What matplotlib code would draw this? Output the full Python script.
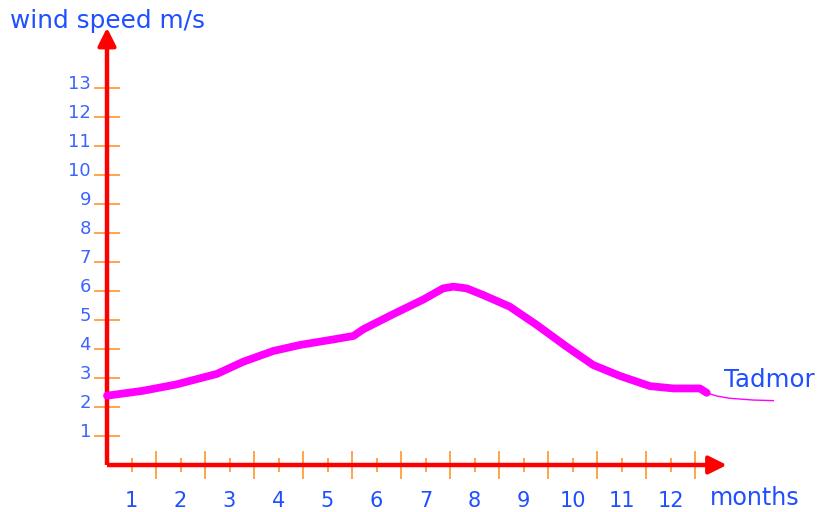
import matplotlib
matplotlib.use("Agg")
import matplotlib.pyplot as plt
from matplotlib.transforms import ScaledTranslation

# month positions (0 = y axis, month i is centred at i - 0.5)
months = [str(i) for i in range(1, 13)]
speed_ticks = list(range(1, 14))

# hand-drawn curve
curve_x = [0.0, 0.74, 1.42, 2.24, 2.78, 3.39, 3.94, 4.62, 5.03, 5.23, 5.84, 6.46,
           6.86, 7.07, 7.34, 7.68, 8.22, 8.77, 9.38, 9.92, 10.47, 11.08, 11.56,
           12.10, 12.24]
curve_y = [2.39, 2.56, 2.78, 3.14, 3.56, 3.93, 4.14, 4.33, 4.45, 4.68, 5.20, 5.71,
           6.09, 6.15, 6.09, 5.86, 5.46, 4.83, 4.08, 3.45, 3.07, 2.72, 2.64,
           2.64, 2.49]
tail_x = [12.24, 12.44, 12.71, 13.19, 13.6]
tail_y = [2.49, 2.38, 2.30, 2.24, 2.22]

RED = "#ff0000"
ORANGE = "#ff8c1a"
BLUE = "#1f4fff"
LIGHT_BLUE = "#3d63ff"

fig = plt.figure(figsize=(8.22, 5.12), dpi=100)
ax = fig.add_axes([0, 0, 1, 1])
ax.set_xlim(-107 / 49, (822 - 107) / 49)
ax.set_ylim((465 - 512) / 29, 465 / 29)

for side in ["top", "right"]:
    ax.spines[side].set_visible(False)
ax.spines["left"].set_position(("data", 0))
ax.spines["bottom"].set_position(("data", 0))
ax.spines["left"].set_bounds(0, 14.6)
ax.spines["bottom"].set_bounds(0, 12.3)
for side in ["left", "bottom"]:
    ax.spines[side].set_color(RED)
    ax.spines[side].set_linewidth(3.2)
    ax.spines[side].set_capstyle("butt")

# arrow heads
ax.annotate("", xy=(12.65, 0), xytext=(12.2, 0),
            arrowprops=dict(arrowstyle="-|>", color=RED, lw=3, mutation_scale=27,
                            shrinkA=0, shrinkB=0))
ax.annotate("", xy=(0, 15.08), xytext=(0, 14.5),
            arrowprops=dict(arrowstyle="-|>", color=RED, lw=3, mutation_scale=27,
                            shrinkA=0, shrinkB=0))

# y ticks
ax.set_yticks(speed_ticks)
ax.set_yticklabels([str(v) for v in speed_ticks])
ax.tick_params(axis="y", direction="inout", length=19.4, width=1.1, color=ORANGE,
               labelcolor=LIGHT_BLUE, labelsize=13, pad=1.8)
offset = ScaledTranslation(0, 4 / 72, fig.dpi_scale_trans)
for lab in ax.get_yticklabels():
    lab.set_transform(lab.get_transform() + offset)

# x ticks: short labelled ticks at month centres, long ones at boundaries
ax.set_xticks([i - 0.5 for i in range(1, 13)])
ax.set_xticklabels(months)
ax.set_xticks(list(range(1, 13)), minor=True)
ax.tick_params(axis="x", which="major", direction="inout", length=10, width=1.1,
               color=ORANGE, labelcolor=BLUE, labelsize=15, pad=14)
ax.tick_params(axis="x", which="minor", direction="inout", length=20, width=1.1,
               color=ORANGE)

ax.plot(curve_x, curve_y, color="#ff00ff", lw=5.6, solid_capstyle="round",
        solid_joinstyle="round", zorder=5)
ax.plot(tail_x, tail_y, color="#ff00ff", lw=1, zorder=5)

ax.text(-1.98, 15.31, "wind speed m/s", color=BLUE, fontsize=17.8, ha="left", va="center")
ax.text(12.31, -1.14, "months", color=BLUE, fontsize=17.2, ha="left", va="center")
ax.text(12.59, 2.93, "Tadmor", color=BLUE, fontsize=17.6, ha="left", va="center")

fig.savefig("out.png", dpi=100)
